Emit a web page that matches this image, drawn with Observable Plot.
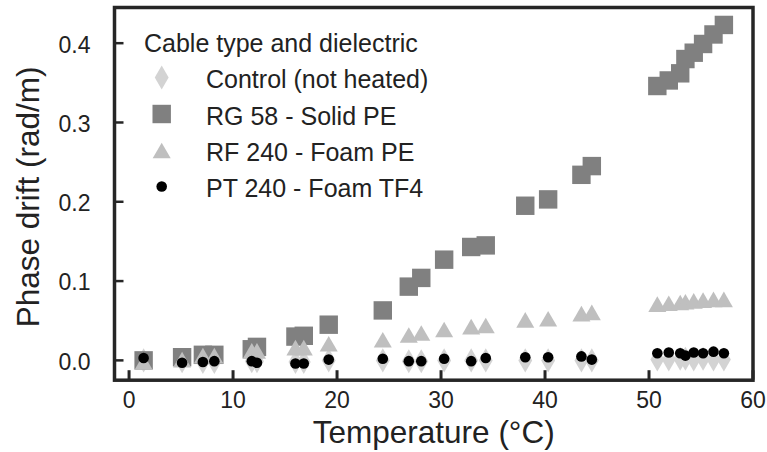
<!DOCTYPE html>
<html><head><meta charset="utf-8">
<script src="https://cdn.jsdelivr.net/npm/d3@7"></script>
<script src="https://cdn.jsdelivr.net/npm/@observablehq/plot@0.6"></script>
<style>
body{margin:0;background:#fff;}
#chart{width:767px;height:452px;}
</style></head><body><div id="chart"></div>
<script>
const temperature = [1.4, 5.1, 7.1, 8.2, 11.8, 12.3, 16.0, 16.8, 19.2, 24.4, 26.9, 28.1, 30.3, 32.9, 34.3, 38.1, 40.3, 43.5, 44.5, 50.8, 51.9, 53.0, 53.5, 54.3, 55.2, 56.2, 57.2];
const control = [0.0, -0.001, -0.002, -0.002, -0.001, -0.001, -0.002, -0.002, 0.0, 0.0, -0.001, -0.001, 0.0, 0.0, 0.0, 0.0, 0.0, 0.0, 0.0, 0.001, 0.001, 0.002, 0.002, 0.001, 0.002, 0.001, 0.001];
const rg58 = [0.000, 0.004, 0.007, 0.007, 0.014, 0.017, 0.030, 0.031, 0.045, 0.063, 0.093, 0.104, 0.127, 0.143, 0.145, 0.195, 0.203, 0.234, 0.245, 0.346, 0.353, 0.362, 0.380, 0.388, 0.399, 0.411, 0.423];
const rf240 = [-0.002, 0.001, 0.006, 0.006, 0.012, 0.012, 0.016, 0.016, 0.021, 0.026, 0.032, 0.0345, 0.039, 0.0425, 0.044, 0.051, 0.0525, 0.059, 0.0605, 0.071, 0.072, 0.073, 0.074, 0.075, 0.076, 0.077, 0.077];
const pt240 = [0.003, -0.003, -0.002, -0.001, -0.001, -0.003, -0.004, -0.004, 0.001, 0.002, -0.001, -0.001, 0.002, -0.001, 0.003, 0.004, 0.004, 0.005, 0.001, 0.009, 0.010, 0.009, 0.006, 0.010, 0.009, 0.011, 0.009];
const seriesNames = ["Control (not heated)", "RG 58 - Solid PE", "RF 240 - Foam PE", "PT 240 - Foam TF4"];
const legendTitle = "Cable type and dielectric";
const xTicks = [0, 10, 20, 30, 40, 50, 60];
const yTicks = [0, 0.1, 0.2, 0.3, 0.4];
const xLabel = "Temperature (°C)";
const yLabel = "Phase drift (rad/m)";

const W = 767, H = 452, mL = 114, mR = 14.5, mT = 7, mB = 72.3;
const frameW = W - mL - mR, frameH = H - mT - mB;
const xDomain = [-1.4, 60], yDomain = [-0.025, 0.445];
const ink = "#262626";
const font = "'Liberation Sans', Arial, sans-serif";
const tickLen = 9.5;
// inward tick length expressed in data units so the library scales draw it
const xTickSpan = tickLen * (xDomain[1] - xDomain[0]) / frameW;
const yTickSpan = tickLen * (yDomain[1] - yDomain[0]) / frameH;

const seriesValues = [control, rg58, rf240, pt240];
const styles = [
  {symbol: "diamond", d3sym: d3.symbolDiamond, fill: "#d3d3d3", r: 7.3, dy: 0},
  {symbol: "square", d3sym: d3.symbolSquare, fill: "#808080", r: 10.4, dy: 0},
  {symbol: "triangle", d3sym: d3.symbolTriangle, fill: "#bfbfbf", r: 6.7, dy: 2.6},
  {symbol: "circle", d3sym: d3.symbolCircle, fill: "#000000", r: 5.3, dy: 0}
];

const tables = seriesValues.map(vals => temperature.map((t, i) => ({t, v: vals[i]})));

const dotMarks = tables.map((tbl, k) => Plot.dot(tbl, {
  x: "t", y: "v", symbol: styles[k].symbol, r: styles[k].r,
  fill: styles[k].fill, stroke: "none", dy: styles[k].dy
}));

const chart = Plot.plot({
  width: W, height: H,
  marginLeft: mL, marginRight: mR, marginTop: mT, marginBottom: mB,
  style: {fontFamily: font, background: "#fff", color: "#222"},
  x: {domain: xDomain},
  y: {domain: yDomain},
  marks: [
    ...dotMarks,
    Plot.ruleX(xTicks, {x: d => d, y1: yDomain[0], y2: yDomain[0] + yTickSpan, stroke: ink, strokeWidth: 3}),
    Plot.ruleY(yTicks, {y: d => d, x1: xDomain[0], x2: xDomain[0] + xTickSpan, stroke: ink, strokeWidth: 2.5}),
    Plot.axisX(xTicks, {tickSize: 0, tickPadding: 11.5, fontSize: 23, label: null, fill: "#222"}),
    Plot.axisY(yTicks, {tickSize: 0, tickPadding: 24, fontSize: 23, label: null, fill: "#222", dy: 2, tickFormat: d3.format(".1f")}),
    Plot.text([xLabel], {frameAnchor: "bottom", lineAnchor: "top", textAnchor: "middle", dy: 40.7, fontSize: 31.5, fill: "#222"}),
    Plot.text([yLabel], {frameAnchor: "left", lineAnchor: "top", textAnchor: "middle", rotate: -90, dx: -98, dy: 3, fontSize: 31.5, fill: "#222"}),
    Plot.frame({stroke: ink, strokeWidth: 3.5})
  ]
});

document.getElementById("chart").appendChild(chart);

// Legend (upper-left, inside the frame)
const svg = d3.select(chart);
const lg = svg.append("g").attr("font-family", font).attr("fill", "#222").attr("text-anchor", "start");
const legendFont = 25;
lg.append("text").attr("x", 144).attr("y", 52).attr("font-size", legendFont).text(legendTitle);
const rowBase = [88, 124.5, 161, 197];
seriesNames.forEach((name, k) => {
  const st = styles[k];
  lg.append("path")
    .attr("transform", `translate(161.7,${rowBase[k] - 10.5 + st.dy})`)
    .attr("d", d3.symbol(st.d3sym, Math.PI * st.r * st.r)())
    .attr("fill", st.fill);
  lg.append("text").attr("x", 206).attr("y", rowBase[k]).attr("font-size", legendFont).text(name);
});
</script></body></html>
